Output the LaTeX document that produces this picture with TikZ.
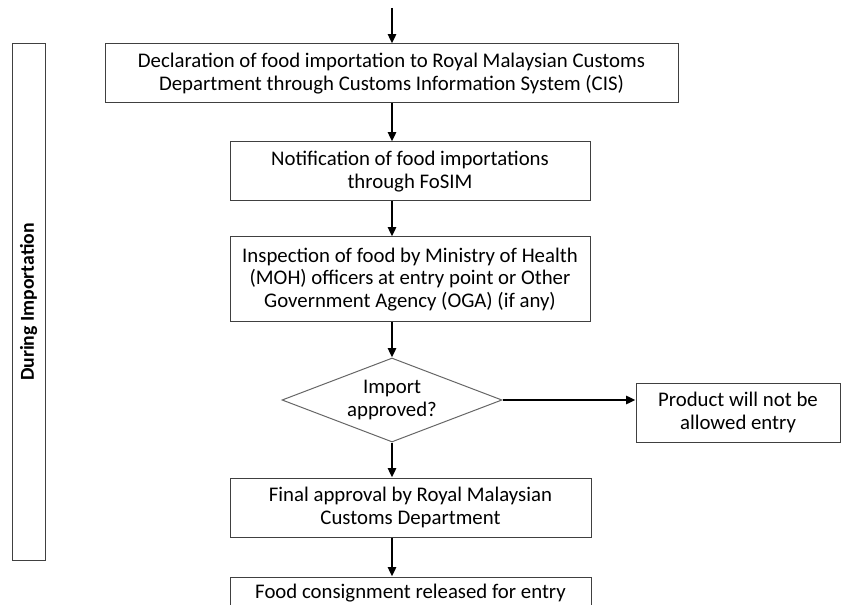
\documentclass[tikz,border=0pt]{standalone}
\usepackage{fontspec}
\setmainfont{Carlito}
\usetikzlibrary{shapes.geometric,arrows.meta,positioning}

\begin{document}
\begin{tikzpicture}[x=0.75pt, y=-0.75pt,
        box/.style={draw=black!75, line width=0.75pt, align=center, inner sep=0pt, font=\fontsize{15.6}{17}\selectfont},
        decision/.style={draw=black!60, diamond, line width=0.75pt, align=center, inner sep=0pt, aspect=2.6, font=\fontsize{15.6}{17}\selectfont},
        flow/.style={-{Triangle[width=6pt,length=7pt]}, line width=2pt}]
        \useasboundingbox (0,0) rectangle (841,605);

        % Phase bar
        \node [box, rotate=90, minimum width=387pt, minimum height=24.75pt, font=\fontsize{14.8}{17}\selectfont\bfseries] (phase) at (28.5,302) {During Importation};

        % Main steps
        \coordinate (start) at (392,8);
        \node [box, minimum width=429.75pt, minimum height=44.25pt] (decl) at (391.5,73.5) {Declaration of food importation to Royal Malaysian Customs\\Department through Customs Information System (CIS)};
        \node [box, minimum width=270pt, minimum height=44.25pt] (notif) at (410,171.5) {Notification of food importations\\through FoSIM};
        \node [box, minimum width=270pt, minimum height=63.75pt] (inspect) at (410,279.5) {Inspection of food by Ministry of Health\\(MOH) officers at entry point or Other\\Government Agency (OGA) (if any)};

        % Decision
        \node [decision, minimum width=165pt, minimum height=63pt] (approve) at (392,400) {Import\\approved?};
        \node [box, minimum width=153pt, minimum height=44.25pt] (reject) at (738,412.5) {Product will not be\\allowed entry};

        % Release
        \node [box, minimum width=270.75pt, minimum height=44.25pt] (final) at (410.5,507.5) {Final approval by Royal Malaysian\\Customs Department};
        \node [box, minimum width=270.75pt, minimum height=24.75pt] (release) at (410.5,593.5) {Food consignment released for entry};

        % Arrows
        \draw [flow] (start) -- (start |- decl.north);
        \draw [flow] (decl.south -| approve) -- (notif.north -| approve);
        \draw [flow] (notif.south -| approve) -- (inspect.north -| approve);
        \draw [flow] (inspect.south -| approve) -- (approve.north);
        \draw [flow] (approve.east) -- (approve.east -| reject.west);
        \draw [flow] (approve.south) -- (final.north -| approve);
        \draw [flow] (final.south -| approve) -- (release.north -| approve);
    \end{tikzpicture}
\end{document}
